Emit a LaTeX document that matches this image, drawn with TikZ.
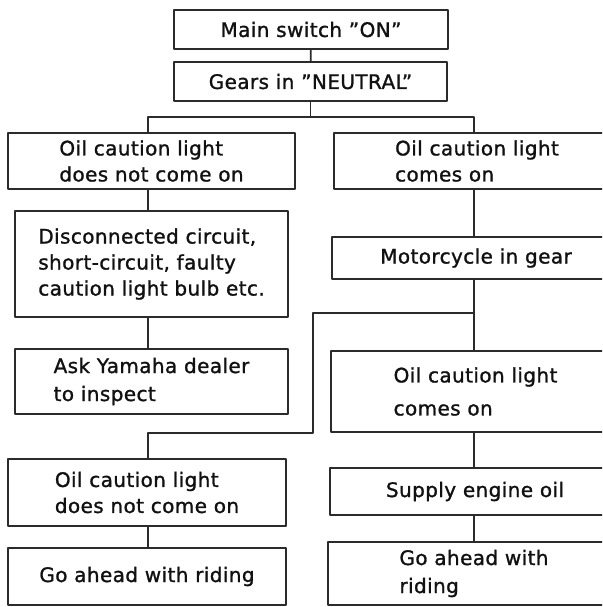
\documentclass[tikz,border=0pt]{standalone}
\usepackage{fontspec}
\setmainfont{DejaVu Sans}[LetterSpace=2,FakeBold=1.2]
\definecolor{lncol}{HTML}{2B2B2B}
\definecolor{txtcol}{HTML}{111111}

\begin{document}
\begin{tikzpicture}[x=1pt,y=-1pt,line cap=round,line join=round,
  box/.style={draw=lncol,line width=1.7pt,inner sep=0pt,align=left,text=txtcol,
    font=\fontsize{20}{26}\selectfont},
  link/.style={draw=lncol,line width=1.7pt}]

  \path[use as bounding box,clip] (0,0) rectangle (602,607);
  \fill[white] (0,0) rectangle (602,607);

  \node[box,minimum width=274,minimum height=39] (main) at (311,29.5) {Main switch ”ON”};
  \node[box,minimum width=273,minimum height=39] (gears) at (310.5,81.5) {Gears in ”NEUTRAL”};

  \node[box,minimum width=287,minimum height=56] (offA) at (151.5,161) {Oil caution light\\does not come on};
  \node[box,minimum width=286,minimum height=56] (onA) at (477,161) {Oil caution light\\comes on};

  \node[box,minimum width=273,minimum height=106] (fault) at (151.5,264)
    {Disconnected circuit,\\short-circuit, faulty\\caution light bulb etc.};
  \node[box,minimum width=288,minimum height=42] (ingear) at (476,258) {Motorcycle in gear};

  \node[box,minimum width=273,minimum height=65] (dealer) at (151.5,381.5) {Ask Yamaha dealer\\[2pt]to inspect};
  \node[box,minimum width=289,minimum height=81] (onB) at (475.5,391.5) {Oil caution light\\[7pt]comes on};

  \node[box,minimum width=278,minimum height=67] (offB) at (147,492.5) {Oil caution light\\does not come on};
  \node[box,minimum width=290,minimum height=47] (supply) at (475,491.5) {Supply engine oil};

  \node[box,minimum width=278,minimum height=57] (rideA) at (147,576.5) {Go ahead with riding};
  \node[box,minimum width=292,minimum height=63] (rideB) at (474,573.5) {Go ahead with\\[2pt]riding};

  \coordinate (colL) at (148,0);
  \coordinate (colR) at (474,0);
  \coordinate (brA) at (311,117);
  \coordinate (bendA) at (313,313);
  \coordinate (bendB) at (313,433);

  \draw[link] (main) -- (gears);
  \draw[link] (gears.south) -- (gears.south |- brA);
  \draw[link] (offA.north -| colL) |- (brA) -| (onA.north -| colR);
  \draw[link] (offA.south -| colL) -- (fault.north -| colL);
  \draw[link] (fault.south -| colL) -- (dealer.north -| colL);
  \draw[link] (onA.south -| colR) -- (ingear.north -| colR);
  \draw[link] (ingear.south -| colR) -- (onB.north -| colR);
  \draw[link] (bendA -| colR) -- (bendA) -- (bendB) -| (offB.north -| colL);
  \draw[link] (offB.south -| colL) -- (rideA.north -| colL);
  \draw[link] (onB.south -| colR) -- (supply.north -| colR);
  \draw[link] (supply.south -| colR) -- (rideB.north -| colR);

\end{tikzpicture}
\end{document}
